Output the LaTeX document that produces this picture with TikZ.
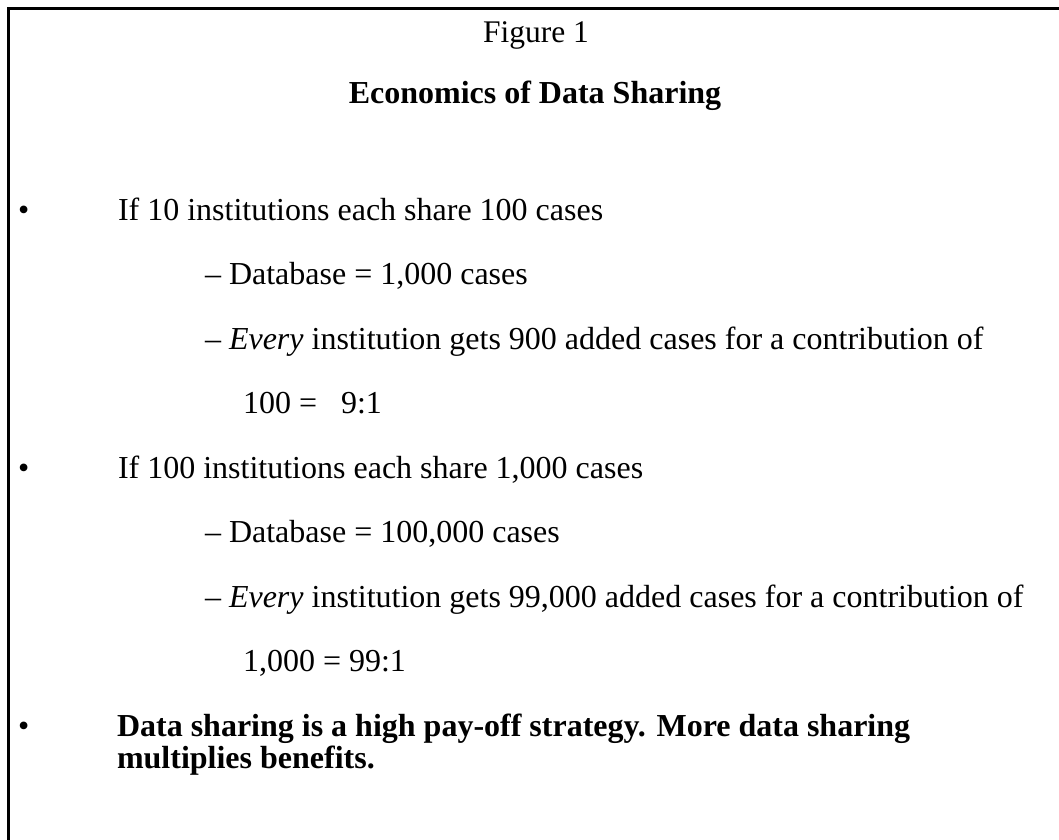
\documentclass[tikz,border=0pt]{standalone}
\usepackage{fontspec}
\setmainfont{Liberation Serif}
\begin{document}
\begin{tikzpicture}[x=1pt,y=-1pt,
  txt/.style={anchor=base west,inner sep=0pt,outer sep=0pt,font=\fontsize{32}{37}\selectfont},
  ctr/.style={anchor=base,inner sep=0pt,outer sep=0pt,font=\fontsize{32}{37}\selectfont},
  frame/.style={line width=3pt,line cap=butt}]
\useasboundingbox (0,0) rectangle (1059,839);
\coordinate (fb) at (8,845);
\coordinate (fc) at (8,8);
\coordinate (fr) at (1065,8);
\draw[frame] (fb) -- (fc) -- (fr);
\node[ctr,font=\fontsize{31.5}{37}\selectfont] (fig) at (536,42) {Figure 1};
\node[ctr] (econ) at (535,103) {\bfseries Economics of Data Sharing};
% first bullet
\node[txt] (b1) at (18,220) {•};
\node[txt] (if10) at (118,220) {If 10 institutions each share 100 cases};
\node[txt] (db1) at (205,284.5) {–\ Database = 1,000 cases};
\node[txt] (ev1) at (205,349) {–\ \textit{Every} institution gets 900 added cases for a contribution of};
\node[txt] (r1) at (243,413.5) {100 =~~~9:1};
% second bullet
\node[txt] (b2) at (18,478) {•};
\node[txt] (if100) at (118,478) {If 100 institutions each share 1,000 cases};
\node[txt] (db2) at (205,542.5) {–\ Database = 100,000 cases};
\node[txt] (ev2) at (205,607) {–\ \textit{Every} institution gets 99,000 added cases for a contribution of};
\node[txt] (r2) at (243,671.5) {1,000 = 99:1};
% third bullet
\node[txt] (b3) at (18,736) {•};
\node[txt] (data1) at (117,736) {\bfseries Data sharing is a high pay-off strategy. More data sharing};
\node[txt] (data2) at (117,768) {\bfseries multiplies benefits.};
\end{tikzpicture}
\end{document}
